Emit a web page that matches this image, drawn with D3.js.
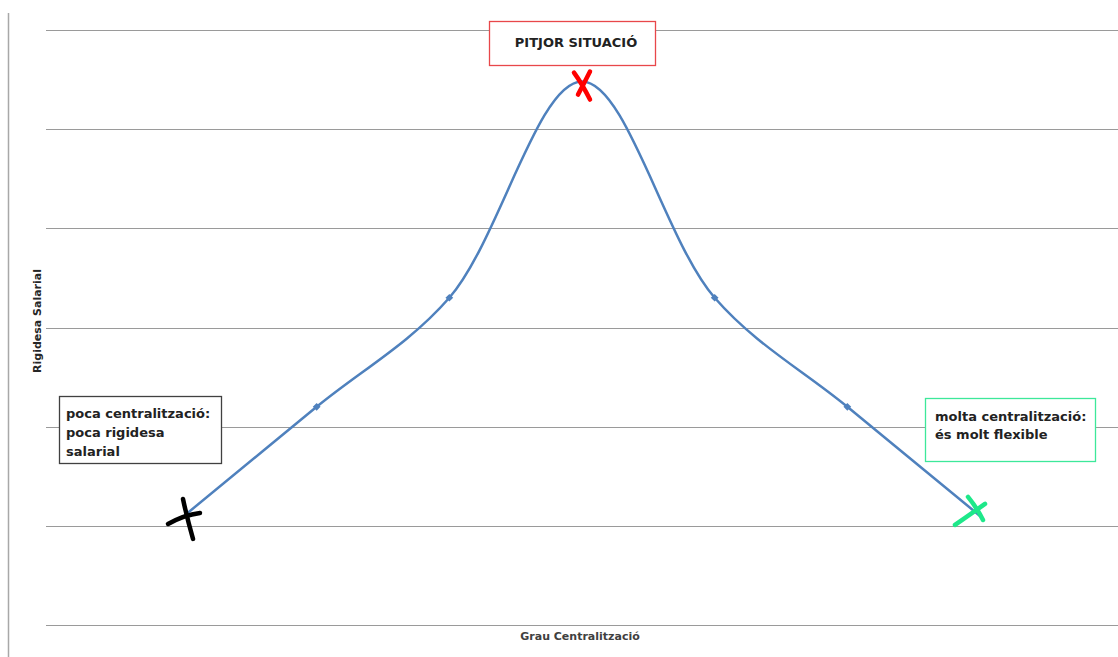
<!DOCTYPE html>
<html><head><meta charset="utf-8">
<script src="https://cdn.jsdelivr.net/npm/d3@7"></script>
<style>body{margin:0;background:#fff;}svg{display:block;}</style>
</head><body>
<svg id="c" width="1118" height="657"></svg>
<script>
const categories = ["1","2","3","4","5","6","7"];
const values = [1.1, 2.2, 3.3, 5.48, 3.3, 2.2, 1.1];
const yTicks = [0, 1, 2, 3, 4, 5, 6];
const xTitle = "Grau Centralització";
const yTitle = "Rigidesa Salarial";
const peakLabel = "PITJOR SITUACIÓ";
const leftNote = ["poca centralització:", "poca rigidesa", "salarial"];
const rightNote = ["molta centralització:", "és molt flexible"];

const svg = d3.select("#c");
const x = d3.scalePoint().domain(categories).range([184, 980]);
const y = d3.scaleLinear().domain([0, 6]).range([625, 30]);
const font = "'DejaVu Sans', Verdana, sans-serif";

// left axis line
svg.append("line").attr("x1", 8.5).attr("x2", 8.5).attr("y1", 13).attr("y2", 657)
  .attr("stroke", "#a8a8a8").attr("stroke-width", 1.5);

// gridlines
svg.append("g").selectAll("line").data(yTicks).join("line")
  .attr("x1", 46).attr("x2", 1118)
  .attr("y1", d => Math.round(y(d)) + 0.5).attr("y2", d => Math.round(y(d)) + 0.5)
  .attr("stroke", "#9a9a9a").attr("stroke-width", 1.2);

// axis titles
svg.append("text").attr("x", 580).attr("y", 640).attr("text-anchor", "middle")
  .attr("font-family", font).attr("font-size", 11).attr("font-weight", "bold")
  .attr("fill", "#404040").text(xTitle);
svg.append("text").attr("transform", "translate(41,321) rotate(-90)").attr("text-anchor", "middle")
  .attr("font-family", font).attr("font-size", 11).attr("font-weight", "bold")
  .attr("fill", "#262626").text(yTitle);

// curve
const line = d3.line().x((d, i) => x(categories[i])).y(d => y(d)).curve(d3.curveCatmullRom.alpha(0.5));
svg.append("path").datum(values).attr("d", line).attr("fill", "none")
  .attr("stroke", "#4f81bd").attr("stroke-width", 2.5);

// diamond markers on inner points
svg.append("g").selectAll("path").data(values.map((v, i) => ({v, i})).filter(d => d.i > 0 && d.i < 6 && d.i !== 3))
  .join("path")
  .attr("d", d3.symbol().type(d3.symbolSquare).size(30))
  .attr("transform", d => `translate(${x(categories[d.i])},${y(d.v)}) rotate(45)`)
  .attr("fill", "#4f81bd");

// hand-drawn crosses
function cross(i, color, strokes) {
  const cx = x(categories[i]), cy = y(values[i]);
  strokes.forEach(s => {
    svg.append("path")
      .attr("d", `M${cx + s[0]},${cy + s[1]} Q${cx + s[2]},${cy + s[3]} ${cx + s[4]},${cy + s[5]}`)
      .attr("fill", "none").attr("stroke", color).attr("stroke-width", 4.5)
      .attr("stroke-linecap", "round");
  });
}
cross(0, "#000000", [[-16, 8, 0, -1, 16, -3], [-1, -17, 3, 2, 9, 23]]);
cross(3, "#ff0000", [[-8, -9, 0, 2, 8, 18], [8, -10, 2, 2, -4, 13]]);
cross(6, "#1ee88a", [[-25, 9, -12, 0, 5, -12], [-12, -19, -3, -8, 3, 4]]);

// annotation boxes
function note(x0, y0, w, h, color, lines, tx, ty, lh, anchor) {
  svg.append("rect").attr("x", x0 + 0.5).attr("y", y0 + 0.5).attr("width", w).attr("height", h)
    .attr("fill", "#fff").attr("stroke", color).attr("stroke-width", 1.3);
  const t = svg.append("text").attr("font-family", font).attr("font-size", 13)
    .attr("font-weight", "bold").attr("fill", "#222").attr("text-anchor", anchor || "start");
  lines.forEach((l, k) => t.append("tspan").attr("x", tx).attr("y", ty + k * lh).text(l));
}
note(489, 21, 166, 44, "#e8474a", [peakLabel], 576, 47, 0, "middle");
note(59, 396, 162, 67, "#404040", leftNote, 66, 418, 19);
note(925, 398, 170, 63, "#3de89a", rightNote, 935, 421, 18);
</script>
</body></html>
